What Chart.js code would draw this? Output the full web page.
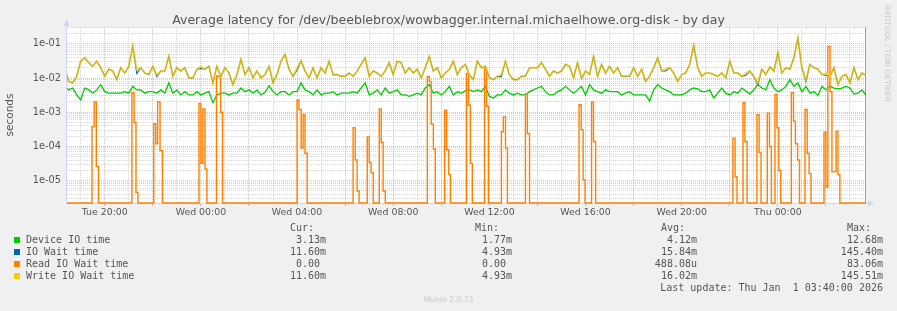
<!DOCTYPE html>
<html>
<head>
<meta charset="utf-8">
<script src="https://cdn.jsdelivr.net/npm/chart.js@4.4.1/dist/chart.umd.min.js"></script>
<style>
  html, body { margin: 0; padding: 0; background: #f0f0f0; }
  #wrap { position: relative; width: 897px; height: 311px; overflow: hidden; background: #f0f0f0; }
  #c { position: absolute; left: 0; top: 0; }
  .t { position: absolute; white-space: pre; color: #555; }
  .title { font-family: "DejaVu Sans", sans-serif; font-size: 12.55px; line-height: 15px; left: 0; width: 897px; text-align: center; top: 12px; }
  .mono { font-family: "DejaVu Sans Mono", monospace; font-size: 10px; line-height: 12px; }
  .sq { position: absolute; width: 6px; height: 6px; }
  .side { font-family: "DejaVu Sans", sans-serif; font-size: 7.5px; color: #c8c8c8; writing-mode: vertical-rl; left: 883px; top: 5px; line-height: 9px; }
  .ver { font-family: "DejaVu Sans", sans-serif; font-size: 7.6px; color: #c8c8c8; left: 0; width: 897px; text-align: center; top: 295px; line-height: 9px; }
</style>
</head>
<body>
<div id="wrap">
  <canvas id="c" width="897" height="311"></canvas>
</div>
<script>
// ---- time axis (hours counted from Tue 00:00) ----
const startHour = 18 + 20 / 60;     // first sample: Tue 18:20
const stepHours = 10 / 60;          // one sample every 10 minutes
const xMin = 18.43;
const xMax = 51 + 40 / 60;          // Thu 03:40 (last update)
const xTickHours = [20, 24, 28, 32, 36, 40, 44, 48];
const xTickLabels = ['Tue 20:00', 'Wed 00:00', 'Wed 04:00', 'Wed 08:00', 'Wed 12:00', 'Wed 16:00', 'Wed 20:00', 'Thu 00:00'];

// ---- y axis (seconds, log) ----
const yMin = 2.22e-6;
const yMax = 0.31;
const yDecades = [1e-5, 1e-4, 1e-3, 1e-2, 1e-1];
const yTickLabels = ['1e-05', '1e-04', '1e-03', '1e-02', '1e-01'];

// ---- series (seconds) ----
const deviceIO = [
  .0057, .0045, .0051, .0032, .0023, .0051, .0045, .0036, .0045, .0064,
  .0040, .0036, .0036, .0036, .0036, .0040, .0036, .0057, .0045, .0045,
  .0036, .0040, .0040, .0036, .0045, .0036, .0072, .0036, .0045, .0032,
  .0040, .0032, .0032, .0040, .0032, .0036, .0040, .0019, .0032, .0036,
  .0036, .0032, .0036, .0036, .0051, .0040, .0045, .0036, .0045, .0032,
  .0038, .0060, .0040, .0032, .0040, .0040, .0032, .0040, .0040, .0072,
  .0045, .0040, .0032, .0045, .0032, .0036, .0036, .0040, .0032, .0036,
  .0036, .0036, .0040, .0036, .0051, .0072, .0032, .0036, .0045, .0032,
  .0051, .0036, .0040, .0045, .0032, .0032, .0029, .0032, .0036, .0032,
  .0051, .0064, .0036, .0040, .0032, .0040, .0057, .0032, .0040, .0036,
  .0042, .0045, .0040, .0045, .0040, .0057, .0029, .0026, .0032, .0032,
  .0045, .0036, .0032, .0036, .0032, .0032, .0040, .0045, .0051, .0057,
  .0040, .0032, .0032, .0040, .0045, .0057, .0045, .0036, .0045, .0057,
  .0032, .0064, .0045, .0040, .0036, .0045, .0040, .0040, .0040, .0032,
  .0036, .0040, .0032, .0032, .0032, .0032, .0021, .0045, .0064, .0051,
  .0045, .0040, .0032, .0032, .0032, .0036, .0045, .0051, .0048, .0040,
  .0040, .0045, .0026, .0036, .0051, .0036, .0032, .0040, .0036, .0051,
  .0042, .0034, .0045, .0066, .0051, .0045, .0090, .0051, .0040, .0045,
  .0057, .0090, .0057, .0072, .0040, .0057, .0036, .0040, .0031, .0057,
  .0045, .0057, .0051, .0048, .0051, .0057, .0051, .0034, .0036, .0045,
  .0031
];
const writeIO = [
  .020, .008, .0072, .0112, .031, .039, .028, .022, .031, .020,
  .0112, .018, .016, .009, .020, .014, .022, .085, .018, .020,
  .014, .0126, .022, .0126, .016, .016, .043, .0112, .020, .016,
  .020, .0101, .0101, .018, .022, .018, .022, .0072, .022, .0112,
  .020, .014, .0064, .0126, .035, .0126, .020, .0101, .016, .0101,
  .0126, .022, .0072, .0126, .031, .049, .018, .0112, .020, .032,
  .016, .0101, .020, .0101, .020, .014, .031, .0126, .0126, .0112,
  .0112, .014, .0112, .016, .025, .039, .0112, .016, .014, .0112,
  .016, .028, .0126, .031, .028, .014, .020, .014, .018, .0101,
  .020, .043, .016, .020, .0101, .014, .018, .031, .0126, .020,
  .025, .0126, .009, .031, .020, .022, .0101, .009, .0112, .0126,
  .031, .0126, .009, .009, .0112, .0112, .020, .020, .020, .028,
  .018, .0112, .016, .014, .016, .025, .022, .0101, .028, .0101,
  .016, .0126, .043, .0112, .025, .014, .022, .014, .020, .0112,
  .0112, .0112, .020, .0112, .018, .008, .0112, .020, .039, .016,
  .019, .020, .014, .008, .0126, .014, .025, .090, .020, .0112,
  .014, .014, .0126, .0112, .014, .0101, .031, .014, .014, .0112,
  .014, .016, .0112, .0072, .018, .0126, .021, .016, .0545, .014,
  .020, .018, .039, .1455, .020, .009, .025, .020, .018, .0126,
  .014, .0112, .020, .0064, .0112, .0126, .0072, .020, .009, .014,
  .0116
];
const ioWait = [
  .020, .008, .0072, .0112, .031, .039, .028, .022, .031, .020,
  .0112, .018, .016, .009, .020, .014, .022, .085, .0135, .020,
  .014, .0126, .022, .011, .016, .016, .043, .0112, .020, .016,
  .020, .0101, .0101, .018, .019, .018, .022, .0072, .022, .0112,
  .020, .014, .0064, .0126, .035, .0126, .020, .0101, .016, .0101,
  .0126, .022, .0072, .0126, .031, .049, .018, .0112, .017, .032,
  .016, .0101, .020, .0101, .020, .014, .031, .0126, .0126, .0112,
  .0112, .014, .0112, .016, .025, .039, .0112, .016, .014, .0112,
  .016, .028, .0126, .031, .028, .014, .020, .014, .018, .0101,
  .020, .043, .016, .020, .0101, .014, .018, .031, .0126, .020,
  .025, .0126, .009, .031, .020, .022, .0101, .009, .0112, .011,
  .031, .0126, .009, .009, .0112, .0112, .020, .020, .020, .028,
  .018, .0112, .016, .014, .016, .025, .022, .0101, .028, .0095,
  .016, .0126, .043, .0112, .025, .014, .022, .014, .020, .0112,
  .0112, .0112, .020, .0112, .018, .008, .0112, .020, .039, .016,
  .016, .020, .014, .008, .0126, .014, .025, .090, .020, .0112,
  .014, .014, .0126, .0112, .014, .0101, .031, .014, .014, .0112,
  .012, .016, .0112, .0062, .018, .0126, .021, .016, .0545, .014,
  .020, .018, .039, .1454, .020, .0078, .025, .020, .018, .0126,
  .012, .0112, .020, .0064, .0112, .0126, .0072, .020, .009, .014,
  .0116
];
// Read IO wait: sparse samples (hour, seconds); 0 sits on the bottom of the log axis
const readT = [
  18.33,
  19.47, 19.56, 19.65, 19.74,
  21.13, 21.22, 21.30, 21.38,
  22.04, 22.12, 22.20, 22.30, 22.40,
  23.92, 24.00, 24.08, 24.17, 24.25,
  24.65, 24.73, 24.82, 24.90,
  28.00, 28.08, 28.17, 28.25, 28.33, 28.42,
  30.33, 30.42, 30.50, 30.58,
  30.92, 31.00, 31.08, 31.17,
  31.42, 31.50, 31.58, 31.67,
  33.42, 33.50, 33.58, 33.67, 33.75,
  34.14, 34.22, 34.31, 34.38,
  35.05, 35.13, 35.21, 35.29,
  35.80, 35.88, 35.96,
  36.50, 36.58, 36.67, 36.75,
  37.50, 37.58, 37.67,
  39.73, 39.82, 39.90, 39.98,
  40.25, 40.33, 40.42,
  46.13, 46.22, 46.30,
  46.55, 46.63, 46.72,
  47.13, 47.22, 47.30,
  47.56, 47.65, 47.73,
  47.88, 47.96, 48.04, 48.12,
  48.56, 48.65, 48.73, 48.82, 48.90,
  49.13, 49.22, 49.30, 49.38,
  49.92, 50.00, 50.08, 50.17, 50.25, 50.33, 50.42, 50.50, 50.58,
  51.67
];
const readV = [
  0,
  3.8e-4, 2.0e-3, 2.6e-5, 0,
  3.7e-3, 5.0e-4, 4.5e-6, 0,
  4.6e-4, 1.2e-4, 2.0e-3, 7.5e-5, 0,
  1.8e-3, 3.2e-5, 1.25e-3, 2.2e-5, 0,
  0.0115, 0.011, 1.0e-3, 0,
  2.3e-3, 1.2e-3, 9.0e-5, 8.5e-4, 6.3e-5, 0,
  3.5e-4, 4.0e-5, 5.0e-6, 0,
  1.9e-4, 3.4e-5, 1.7e-5, 0,
  1.25e-3, 1.3e-4, 5.0e-6, 0,
  0.0112, 0.008, 4.5e-4, 8.4e-5, 0,
  1.15e-3, 8.0e-5, 1.5e-5, 0,
  0.0135, 1.6e-3, 3.2e-5, 0,
  0.019, 1.5e-3, 0,
  2.7e-4, 7.3e-4, 8.9e-5, 0,
  3.5e-3, 2.4e-4, 0,
  1.66e-3, 3.1e-4, 1.05e-5, 0,
  2.0e-3, 1.4e-4, 0,
  1.75e-4, 1.3e-5, 0,
  1.9e-3, 1.4e-4, 0,
  8.5e-4, 6.6e-5, 0,
  9.4e-4, 1.0e-4, 0,
  3.3e-3, 3.5e-4, 2.0e-5, 0,
  3.7e-3, 5.5e-4, 1.2e-4, 4.0e-5, 0,
  1.2e-3, 6.3e-5, 1.6e-5, 0,
  2.6e-4, 6.5e-6, 0.083, 0.004, 1.8e-5, 1.8e-5, 2.8e-4, 1.5e-5, 0,
  0
];

// ---- legend ----
const seriesNames = ['Device IO time', 'IO Wait time', 'Read IO Wait time', 'Write IO Wait time'];
const seriesColors = ['#00cc00', '#0066b3', '#ff8000', '#ffcc00'];
const statHeaders = ['Cur:', 'Min:', 'Avg:', 'Max:'];
const statCur = ['3.13m', '11.60m', '0.00 ', '11.60m'];
const statMin = ['1.77m', '4.93m', '0.00 ', '4.93m'];
const statAvg = ['4.12m', '15.84m', '488.08u', '16.02m'];
const statMax = ['12.68m', '145.40m', '83.06m', '145.51m'];
const lastUpdate = 'Last update: Thu Jan  1 03:40:00 2026';

// ---------- build HTML texts ----------
const wrap = document.getElementById('wrap');
function addText(cls, text, style) {
  const d = document.createElement('div');
  d.className = 't ' + cls;
  d.textContent = text;
  Object.assign(d.style, style || {});
  wrap.appendChild(d);
  return d;
}
addText('title', 'Average latency for /dev/beeblebrox/wowbagger.internal.michaelhowe.org-disk - by day');
addText('side', 'RRDTOOL / TOBI OETIKER');
addText('ver', 'Munin 2.0.73');

const headerLeft = [290, 475, 661, 847];
statHeaders.forEach((h, k) => addText('mono', h, { left: headerLeft[k] + 'px', top: '221.5px' }));
const rowTop = [234.2, 246.1, 258.0, 269.9];
const colRight = [326, 512, 697, 883];
const cols = [statCur, statMin, statAvg, statMax];
seriesNames.forEach((name, r) => {
  const sq = document.createElement('div');
  sq.className = 'sq';
  sq.style.left = '14px';
  sq.style.top = (rowTop[r] + 3.2) + 'px';
  sq.style.background = seriesColors[r];
  wrap.appendChild(sq);
  addText('mono', name, { left: '26px', top: rowTop[r] + 'px' });
  cols.forEach((col, k) => addText('mono', col[r], { right: (897 - colRight[k]) + 'px', top: rowTop[r] + 'px', textAlign: 'right' }));
});
addText('mono', lastUpdate, { right: (897 - 883) + 'px', top: '281.9px' });

// ---------- chart ----------
const toXY = arr => arr.map((v, i) => ({ x: startHour + i * stepHours, y: v }));
// a zero reading is drawn on the floor of the log axis
const readData = readT.map((t, i) => ({ x: t, y: readV[i] > 0 ? readV[i] : yMin }));

const RED_GRID = 'rgba(230,80,80,0.42)';
const GREY_GRID = 'rgba(150,150,150,0.38)';
const AXIS_COL = '#cfd6f8';

const bgPlugin = {
  id: 'bg',
  beforeDraw(chart) {
    const { ctx, chartArea: a } = chart;
    ctx.save();
    ctx.fillStyle = '#ffffff';
    ctx.fillRect(a.left, a.top, a.right - a.left, a.bottom - a.top);
    ctx.restore();
  },
  beforeDatasetsDraw(chart) {
    const { ctx, chartArea: a } = chart;
    ctx.save();
    ctx.strokeStyle = AXIS_COL;
    ctx.fillStyle = AXIS_COL;
    ctx.lineWidth = 1;
    const xl = Math.round(a.left) - 0.5;
    ctx.beginPath(); ctx.moveTo(xl, a.bottom + 1); ctx.lineTo(xl, a.top - 4); ctx.stroke();
    ctx.beginPath(); ctx.moveTo(xl - 3, a.top - 1); ctx.lineTo(xl + 3, a.top - 1); ctx.lineTo(xl, a.top - 8); ctx.closePath(); ctx.fill();
    const yb = Math.round(a.bottom) + 0.5;
    ctx.beginPath(); ctx.moveTo(a.left - 1, yb); ctx.lineTo(a.right + 3, yb); ctx.stroke();
    ctx.beginPath(); ctx.moveTo(a.right + 2, yb - 3); ctx.lineTo(a.right + 2, yb + 3); ctx.lineTo(a.right + 8, yb); ctx.closePath(); ctx.fill();
    ctx.strokeStyle = 'rgba(120,120,120,0.7)';
    const xr = Math.round(a.right) - 0.5;
    ctx.beginPath(); ctx.moveTo(xr, a.top); ctx.lineTo(xr, a.bottom); ctx.stroke();
    ctx.restore();
  }
};

new Chart(document.getElementById('c'), {
  type: 'line',
  data: {
    datasets: [
      { label: seriesNames[0], data: toXY(deviceIO), borderColor: seriesColors[0], borderWidth: 1.3, pointRadius: 0, tension: 0, order: 4 },
      { label: seriesNames[1], data: toXY(ioWait), borderColor: seriesColors[1], borderWidth: 1.1, pointRadius: 0, tension: 0, order: 3 },
      { label: seriesNames[2], data: readData, borderColor: seriesColors[2], borderWidth: 1.4, pointRadius: 0, stepped: true, order: 2,
        clip: { left: 0, top: 0, right: 0, bottom: 2 } },
      { label: seriesNames[3], data: toXY(writeIO), borderColor: 'rgba(255,204,0,0.72)', borderWidth: 2, pointRadius: 0, tension: 0, order: 1 }
    ]
  },
  options: {
    responsive: false,
    animation: false,
    events: [],
    layout: { padding: { left: 0, top: 27, right: 31, bottom: 88 } },
    plugins: { legend: { display: false }, tooltip: { enabled: false }, title: { display: false } },
    scales: {
      x: {
        type: 'linear',
        min: xMin,
        max: xMax,
        afterBuildTicks(scale) {
          const t = [];
          for (let h = 19; h <= 51; h++) t.push({ value: h });
          scale.ticks = t;
        },
        afterFit(scale) { scale.height = 20; },
        ticks: {
          autoSkip: false, maxRotation: 0, padding: 1,
          color: '#555',
          font: { family: 'DejaVu Sans', size: 9.4 },
          callback(v) { const k = xTickHours.indexOf(v); return k >= 0 ? xTickLabels[k] : ''; }
        },
        grid: {
          color: ctx => (ctx.tick && ctx.tick.value % 2 === 0) ? RED_GRID : GREY_GRID,
          tickColor: ctx => (ctx.tick && ctx.tick.value % 2 === 0) ? RED_GRID : 'rgba(0,0,0,0)',
          tickLength: 3, lineWidth: 1, drawTicks: true
        },
        border: { display: false, dash: [1, 1] }
      },
      y: {
        type: 'logarithmic',
        min: yMin,
        max: yMax,
        afterBuildTicks(scale) {
          const t = [];
          for (let e = -6; e <= -1; e++) {
            for (let m = 1; m <= 9; m++) {
              const v = m * Math.pow(10, e);
              if (v >= yMin && v <= yMax) t.push({ value: v });
            }
          }
          scale.ticks = t;
        },
        afterFit(scale) { scale.width = 67; },
        title: { display: true, text: 'seconds', color: '#555', font: { family: 'DejaVu Sans', size: 10.5 }, padding: { top: 4, bottom: 0 } },
        ticks: {
          autoSkip: false, padding: 6,
          color: '#555',
          font: { family: 'DejaVu Sans', size: 9.8 },
          callback(v) {
            for (let k = 0; k < yDecades.length; k++) {
              if (Math.abs(v - yDecades[k]) / yDecades[k] < 1e-6) return yTickLabels[k];
            }
            return '';
          }
        },
        grid: {
          color: ctx => {
            const v = ctx.tick ? ctx.tick.value : 0;
            for (let k = 0; k < yDecades.length; k++) if (Math.abs(v - yDecades[k]) / yDecades[k] < 1e-6) return RED_GRID;
            return GREY_GRID;
          },
          drawTicks: false, lineWidth: 1
        },
        border: { display: false, dash: [1, 1] }
      }
    }
  },
  plugins: [bgPlugin]
});
</script>
</body>
</html>
